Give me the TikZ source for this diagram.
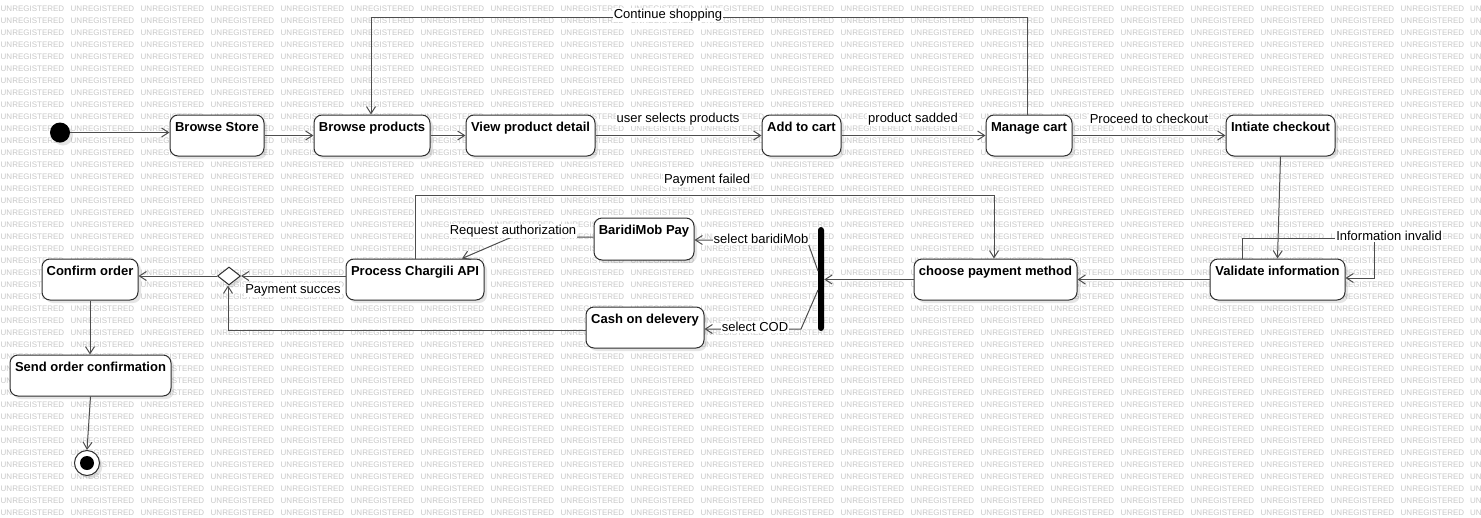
\documentclass[tikz,border=0pt]{standalone}
\usepackage{fontspec}
\setmainfont{Liberation Sans}
\usetikzlibrary{arrows.meta,shapes.geometric,shadows}
\definecolor{wmgray}{HTML}{C8C8C8}
\definecolor{edgecol}{HTML}{4D4D4D}
\definecolor{boxcol}{HTML}{2E2E2E}
\begin{document}
\begin{tikzpicture}[x=1pt,y=-1pt,
  wm/.style={anchor=base west, inner sep=0pt, text=wmgray, font=\fontsize{8}{8}\selectfont},
  softshadow/.style={drop shadow={shadow xshift=3pt, shadow yshift=-3pt, fill=black, opacity=0.1}},
  act/.style={draw=boxcol, line width=1pt, fill=white, rounded corners=8pt, inner sep=0pt, softshadow},
  acttxt/.style={anchor=base, inner sep=0pt, yshift=-16.5pt, font=\bfseries\fontsize{13}{15}\selectfont},
  edge/.style={draw=edgecol, line width=1pt, -{Straight Barb[length=7pt,width=9pt]}},
  lbl/.style={fill=white, inner sep=1pt, font=\fontsize{13}{15}\selectfont},
]
% canvas and watermark pattern
\fill[white] (0,0) rectangle (1481,517);
\useasboundingbox (0,0) rectangle (1481,517);
\foreach \r in {0,...,42} {
  \foreach \c in {0,...,20} {
    \node[wm] (wm-\r-\c) at ({0.5+70*\c},{11.7+12*\r}) {UNREGISTERED};
  }
  \node[wm] (wm-\r-21) at (1470,{11.7+12*\r}) {UN};
}

% start and end
\node[circle, fill=black, minimum size=20pt, inner sep=0pt, softshadow] (init) at (60,132.5) {};
\node[circle, draw=boxcol, line width=1pt, fill=white, minimum size=25pt, inner sep=0pt, softshadow] (final) at (87,463) {};
\node[circle, fill=black, minimum size=14pt, inner sep=0pt] (finaldot) at (final.center) {};

% activities, top row
\node[act, minimum width=94pt, minimum height=41pt, label={[acttxt]north:Browse Store}] (bstore) at (217,135.5) {};
\node[act, minimum width=116pt, minimum height=41pt, label={[acttxt]north:Browse products}] (bprod) at (372,135.5) {};
\node[act, minimum width=129pt, minimum height=41pt, label={[acttxt]north:View product detail}] (vdet) at (530.5,135.5) {};
\node[act, minimum width=79pt, minimum height=41pt, label={[acttxt]north:Add to cart}] (cart) at (801.5,135.5) {};
\node[act, minimum width=86pt, minimum height=41pt, label={[acttxt]north:Manage cart}] (manage) at (1029,135.5) {};
\node[act, minimum width=109pt, minimum height=41pt, label={[acttxt]north:Intiate checkout}] (initck) at (1280.5,135.5) {};

% activities, payment part
\node[act, minimum width=135pt, minimum height=41pt, label={[acttxt]north:Validate information}] (valid) at (1277.5,279.5) {};
\node[act, minimum width=163pt, minimum height=41pt, label={[acttxt]north:choose payment method}] (choose) at (995.5,279.5) {};
\node[act, minimum width=100pt, minimum height=42pt, label={[acttxt]north:BaridiMob Pay}] (bmob) at (644,239) {};
\node[act, minimum width=118pt, minimum height=41pt, label={[acttxt]north:Cash on delevery}] (cod) at (645,327.5) {};
\node[act, minimum width=138pt, minimum height=41pt, label={[acttxt]north:Process Chargili API}] (chargili) at (415,279.5) {};
\node[act, minimum width=96pt, minimum height=41pt, label={[acttxt]north:Confirm order}] (confirm) at (90,279.5) {};
\node[act, minimum width=161pt, minimum height=41pt, label={[acttxt]north:Send order confirmation}] (sendc) at (90.5,375.5) {};

% fork bar and decision
\node[fill=black, rounded corners=3pt, minimum width=6pt, minimum height=104pt, inner sep=0pt] (fork) at (821,279) {};
\node[diamond, draw=boxcol, line width=1pt, fill=white, minimum width=23pt, minimum height=18pt, inner sep=0pt, softshadow] (dec) at (229,276) {};

% bend points
\coordinate (cs1) at (1027,17);
\coordinate (cs2) at (371,17);
\coordinate (ii1) at (1242,238);
\coordinate (ii2) at (1374,238);
\coordinate (ii3) at (1374,278);
\coordinate (sb0) at (818,271);
\coordinate (sb1) at (807,240);
\coordinate (sc0) at (818,290);
\coordinate (sc1) at (801,329);
\coordinate (ra1) at (512,237);
\coordinate (ra2) at (462,259);
\coordinate (pf1) at (415,195);
\coordinate (pf2) at (994,195);
\coordinate (cd1) at (228,330);

% transitions
\draw[edge] (init) -- (init -| bstore.west);
\draw[edge] (bstore.east) -- (bprod.west);
\draw[edge] (bprod.east) -- (vdet.west);
\draw[edge] (vdet.east) -- (cart.west);
\draw[edge] (cart.east) -- (manage.west);
\draw[edge] (manage.east) -- (initck.west);
\draw[edge] (cs1 |- manage.north) -- (cs1) -- (cs2) -- (cs2 |- bprod.north);
\draw[edge] (initck.south) -- (valid.north);
\draw[edge] (ii1 |- valid.north) -- (ii1) -- (ii2) -- (ii3) -- (ii3 -| valid.east);
\draw[edge] (valid.west) -- (choose.east);
\draw[edge] (choose.west) -- (choose.west -| fork.east);
\draw[edge] (sb0) -- (sb1) -- (sb1 -| bmob.east);
\draw[edge] (sc0) -- (sc1) -- (sc1 -| cod.east);
\draw[edge] (bmob.west |- ra1) -- (ra1) -- (ra2 |- chargili.north);
\draw[edge] (pf1 |- chargili.north) -- (pf1) -- (pf2) -- (pf2 |- choose.north);
\draw[edge] (dec.east -| chargili.west) -- (dec.east);
\draw[edge] (cod.west |- cd1) -- (cd1) -- (cd1 |- dec.south);
\draw[edge] (dec.west) -- (dec.west -| confirm.east);
\draw[edge] (confirm.south) -- (confirm.south |- sendc.north);
\draw[edge] (sendc.south) -- (final.north);

% transition labels
\node[lbl] (l-cont) at (668,15) {Continue shopping};
\node[lbl] (l-usp) at (678,119) {user selects products};
\node[lbl] (l-psa) at (913,119) {product sadded};
\node[lbl] (l-ptc) at (1149,119) {Proceed to checkout};
\node[lbl] (l-pf) at (707,180) {Payment failed};
\node[lbl] (l-ra) at (513,231) {Request authorization};
\node[lbl] (l-sbm) at (761,239) {select baridiMob};
\node[lbl] (l-scod) at (755,327) {select COD};
\node[lbl] (l-ps) at (293,290) {Payment succes};
\node[lbl] (l-ii) at (1389,236) {Information invalid};
\end{tikzpicture}
\end{document}
